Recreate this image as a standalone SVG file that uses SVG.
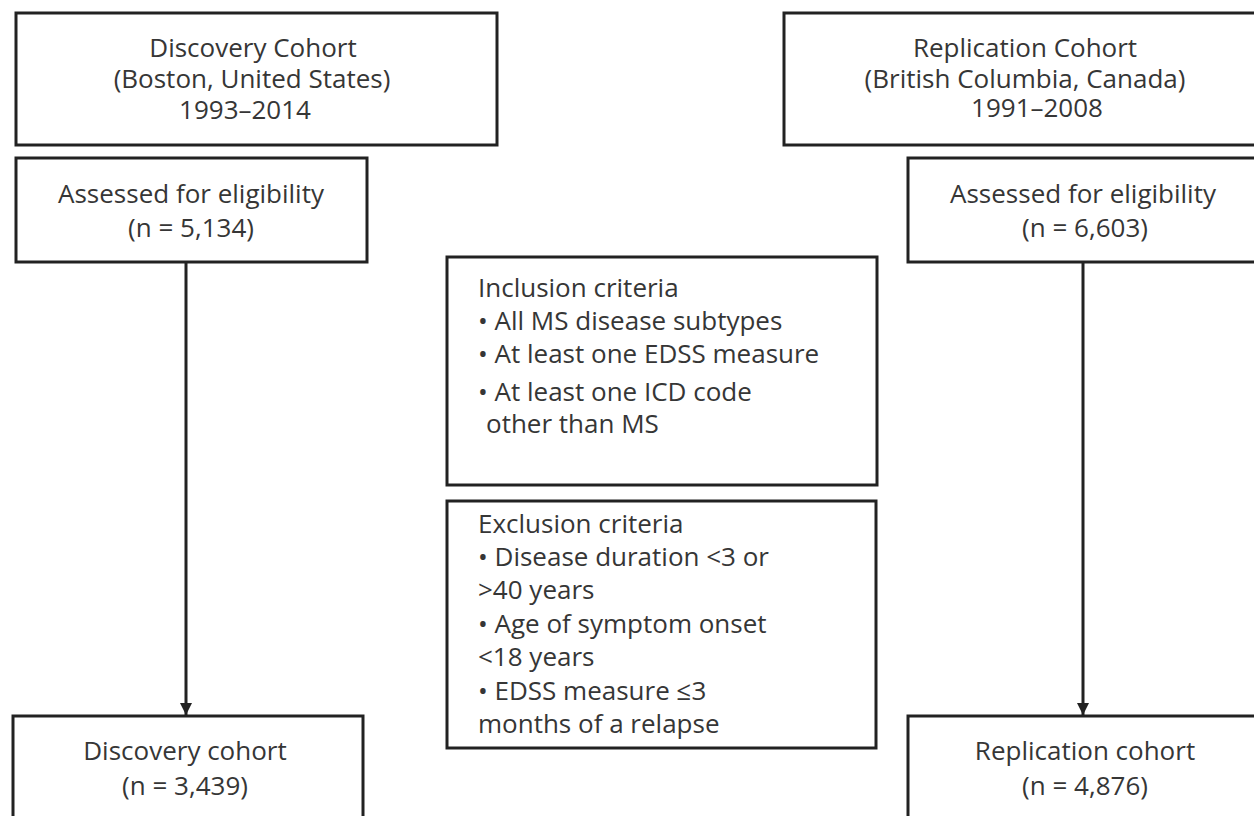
<svg xmlns="http://www.w3.org/2000/svg" width="1254" height="816" viewBox="0 0 1254 816">
<style>
.box{fill:#fff;stroke:#222;stroke-width:3}
text{font-family:"Open Sans","Noto Sans",sans-serif;font-size:26px;fill:#363636}
.c{text-anchor:middle}
.conn{stroke:#222;stroke-width:3;fill:none}
</style>
<defs>
<marker id="ah" markerWidth="12" markerHeight="12" refX="10" refY="5" orient="auto" markerUnits="userSpaceOnUse" viewBox="0 0 10 10">
<path d="M0,0 L10,5 L0,10 z" fill="#222"/>
</marker>
</defs>
<rect width="1254" height="816" fill="#fff"/>
<g id="discovery-top">
<rect class="box" x="16" y="13" width="481" height="132"/>
<text class="c" x="253" y="57">Discovery Cohort</text>
<text class="c" x="252" y="88">(Boston, United States)</text>
<text class="c" x="245" y="119">1993–2014</text>
</g>
<g id="replication-top">
<rect class="box" x="784" y="13" width="480" height="132"/>
<text class="c" x="1025" y="57">Replication Cohort</text>
<text class="c" x="1025" y="88">(British Columbia, Canada)</text>
<text class="c" x="1037" y="117">1991–2008</text>
</g>
<g id="assessed-left">
<rect class="box" x="16" y="158" width="351" height="104"/>
<text class="c" x="191" y="203">Assessed for eligibility</text>
<text class="c" x="191" y="237">(n = 5,134)</text>
</g>
<g id="assessed-right">
<rect class="box" x="908" y="158" width="360" height="104"/>
<text class="c" x="1083" y="203">Assessed for eligibility</text>
<text class="c" x="1085" y="237">(n = 6,603)</text>
</g>
<g id="inclusion">
<rect class="box" x="447" y="257" width="430" height="228"/>
<text x="478" y="297">Inclusion criteria</text>
<text x="478" y="330">• All MS disease subtypes</text>
<text x="478" y="363">• At least one EDSS measure</text>
<text x="478" y="401">• At least one ICD code</text>
<text x="486" y="433">other than MS</text>
</g>
<g id="exclusion">
<rect class="box" x="447" y="501" width="429" height="247"/>
<text x="478" y="533">Exclusion criteria</text>
<text x="478" y="566">• Disease duration &lt;3 or</text>
<text x="478" y="599">&gt;40 years</text>
<text x="478" y="633">• Age of symptom onset</text>
<text x="478" y="666">&lt;18 years</text>
<text x="478" y="700">• EDSS measure ≤3</text>
<text x="478" y="733">months of a relapse</text>
</g>
<g id="discovery-final">
<rect class="box" x="13" y="716" width="350" height="120"/>
<text class="c" x="185" y="760">Discovery cohort</text>
<text class="c" x="185" y="795">(n = 3,439)</text>
</g>
<g id="replication-final">
<rect class="box" x="908" y="716" width="360" height="120"/>
<text class="c" x="1085" y="760">Replication cohort</text>
<text class="c" x="1085" y="795">(n = 4,876)</text>
</g>
<g id="connectors">
<line class="conn" x1="186" y1="262" x2="186" y2="715" marker-end="url(#ah)"/>
<line class="conn" x1="1083" y1="262" x2="1083" y2="715" marker-end="url(#ah)"/>
</g>
</svg>
